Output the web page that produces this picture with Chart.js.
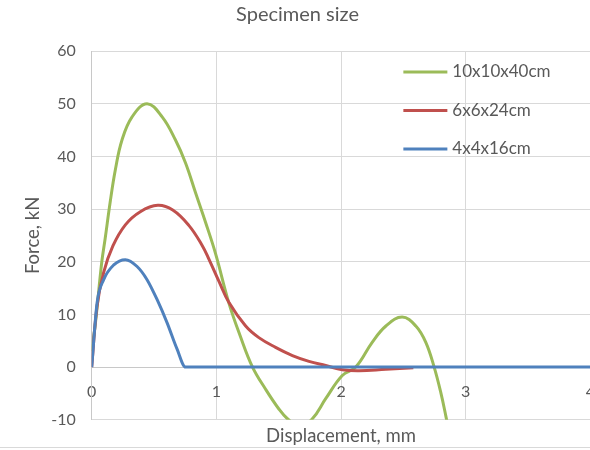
<!DOCTYPE html>
<html>
<head>
<meta charset="utf-8">
<script src="https://cdn.jsdelivr.net/npm/chart.js@4"></script>
<style>
  html, body { margin: 0; padding: 0; background: #fff; overflow: hidden; }
  #wrap { position: relative; width: 595px; height: 447px; border-bottom: 1px solid #d9d9d9; }
</style>
</head>
<body>
<div id="wrap"><canvas id="chart"></canvas></div>
<script>
/* Données */
const seriesNames = ["10x10x40cm", "6x6x24cm", "4x4x16cm"];
const seriesColors = ["#9bbb59", "#c0504d", "#4f81bd"];

const dispBig = [0, 0.03, 0.081, 0.108, 0.148, 0.19, 0.243, 0.324, 0.444, 0.565, 0.672, 0.752, 0.833, 0.913, 0.994, 1.1, 1.19, 1.29, 1.395, 1.5, 1.57, 1.67, 1.77, 1.877, 2.01, 2.118, 2.25, 2.36, 2.49, 2.6, 2.68, 2.747, 2.8, 2.84, 2.88];
const forceBig = [3, 8.4, 20, 24.4, 31.3, 37.5, 43.1, 47.5, 50, 47.5, 43.1, 38.8, 33.1, 27.5, 21.5, 12.2, 6, 0, -4.2, -7.9, -9.8, -11.3, -9.8, -6, -1.6, 0, 4.7, 7.8, 9.5, 7.8, 4.7, 0, -4.8, -9.2, -14];

const dispMid = [0, 0.043, 0.096, 0.17, 0.27, 0.39, 0.53, 0.65, 0.779, 0.886, 0.94, 1.02, 1.1, 1.235, 1.341, 1.475, 1.61, 1.743, 1.877, 2.01, 2.145, 2.36, 2.58];
const forceMid = [0, 11.6, 18, 23, 27, 29.5, 30.7, 29.8, 26.9, 23.1, 20.5, 16.3, 12.3, 7.8, 5.6, 3.75, 2.2, 1.1, 0.3, -0.5, -0.7, -0.4, -0.1];

const dispSmall = [0, 0.043, 0.096, 0.177, 0.27, 0.364, 0.444, 0.525, 0.605, 0.685, 0.753, 4];
const forceSmall = [0, 12.2, 16.6, 19.4, 20.4, 19.1, 16.6, 12.8, 8.4, 3.4, 0, 0];

const xTicks = [0, 1, 2, 3, 4];
const yTicks = [-10, 0, 10, 20, 30, 40, 50, 60];

const toPoints = (xs, ys) => xs.map((x, i) => ({ x, y: ys[i] }));
const allX = [dispBig, dispMid, dispSmall];
const allY = [forceBig, forceMid, forceSmall];

const FONT = "Lato, 'Noto Sans', sans-serif";
const TXT = "#595959";
const GRID = "#d9d9d9";

/* légende dessinée dans la zone du graphique */
const insideLegend = {
  id: "insideLegend",
  afterDatasetsDraw(chart) {
    const { ctx, chartArea } = chart;
    ctx.save();
    ctx.font = "17px " + FONT;
    ctx.textBaseline = "middle";
    chart.data.datasets.forEach((ds, i) => {
      const y = chartArea.top + 21 + i * 38.5;
      const x0 = chartArea.right - 187;
      ctx.strokeStyle = ds.borderColor;
      ctx.lineWidth = 3;
      ctx.beginPath();
      ctx.moveTo(x0, y);
      ctx.lineTo(x0 + 44, y);
      ctx.stroke();
      ctx.fillStyle = TXT;
      ctx.fillText(ds.label, x0 + 49, y);
    });
    ctx.restore();
  },
};

new Chart(document.getElementById("chart"), {
  type: "scatter",
  data: {
    datasets: seriesNames.map((name, i) => ({
      label: name,
      data: toPoints(allX[i], allY[i]),
      showLine: true,
      borderColor: seriesColors[i],
      backgroundColor: seriesColors[i],
      borderWidth: 3,
      pointRadius: 0,
      tension: 0.4,
      cubicInterpolationMode: i === 2 ? "monotone" : "default",
      order: 3 - i,
    })),
  },
  options: {
    responsive: true,
    maintainAspectRatio: false,
    animation: false,
    layout: { padding: 0 },
    plugins: {
      legend: { display: false },
      tooltip: { enabled: false },
      title: {
        display: true,
        text: "Specimen size",
        color: TXT,
        font: { family: FONT, size: 20, weight: "normal" },
        padding: { top: 3, bottom: 24 },
      },
    },
    scales: {
      x: {
        type: "linear",
        position: { y: 0 },
        min: 0,
        max: 4,
        afterBuildTicks: (s) => { s.ticks = xTicks.map((v) => ({ value: v })); },
        ticks: { color: TXT, font: { family: FONT, size: 16 }, padding: 0 },
        grid: { color: GRID, drawTicks: true, tickLength: 15, tickColor: "rgba(0,0,0,0)" },
        border: { color: "#c8c8c8" },
      },
      xTitle: {
        type: "linear",
        position: "bottom",
        min: 0,
        max: 4,
        ticks: { display: false },
        grid: { display: false, drawTicks: false },
        border: { display: false },
        title: {
          display: true,
          text: "Displacement, mm",
          color: TXT,
          font: { family: FONT, size: 18.5 },
          padding: { top: 5, bottom: 0 },
        },
      },
      y: {
        min: -10,
        max: 60,
        afterBuildTicks: (s) => { s.ticks = yTicks.map((v) => ({ value: v })); },
        ticks: { color: TXT, font: { family: FONT, size: 16 }, padding: 16 },
        grid: { color: GRID, drawTicks: false },
        border: { color: "#c8c8c8" },
        title: {
          display: true,
          text: "Force, kN",
          color: TXT,
          font: { family: FONT, size: 18.5 },
          padding: { top: 22, bottom: -9 },
        },
      },
    },
  },
  plugins: [insideLegend],
});
</script>
</body>
</html>
